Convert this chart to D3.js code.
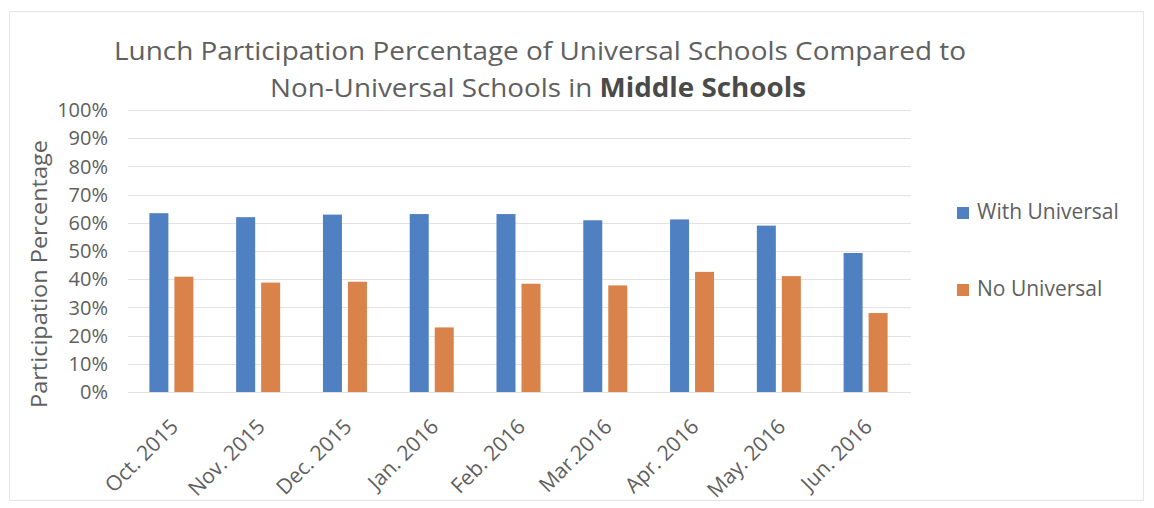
<!DOCTYPE html>
<html>
<head>
<meta charset="utf-8">
<script src="https://d3js.org/d3.v7.min.js"></script>
<style>
  body { margin: 0; background: #fff; }
  svg text { font-family: "Open Sans", sans-serif; fill: #606060; }
</style>
</head>
<body>
<svg width="1154" height="508"></svg>
<script>
const months = ["Oct. 2015", "Nov. 2015", "Dec. 2015", "Jan. 2016", "Feb. 2016",
    "Mar.2016", "Apr. 2016", "May. 2016", "Jun. 2016"];
const seriesNames = ["With Universal", "No Universal"];
const withUniversal = [63.4, 62.0, 62.9, 63.1, 63.1, 60.9, 61.2, 59.0, 49.3];
const noUniversal = [40.9, 38.8, 39.1, 22.9, 38.4, 37.8, 42.6, 41.1, 28.0];
const yTicks = [0, 10, 20, 30, 40, 50, 60, 70, 80, 90, 100];
const colors = ["#4f80c2", "#d9834b"];

let svg = d3.select("svg"),
    plotLeft = 128,
    plotRight = 909,
    plotTop = 110,
    plotBottom = 392;

// faint frame of the scanned chart
svg.append("rect")
    .attr("x", 9.5).attr("y", 11.5)
    .attr("width", 1134).attr("height", 489)
    .attr("fill", "none")
    .attr("stroke", "#e6e6e6");

let x0 = d3.scaleBand().domain(months).range([plotLeft, plotRight]);
let x1 = d3.scaleBand().domain(seriesNames).range([0, 44]).paddingInner(0.24);
let y = d3.scaleLinear().domain([0, 100]).range([plotBottom, plotTop]);

// gridlines
svg.append("g")
    .selectAll("line")
    .data(yTicks)
    .enter()
    .append("line")
    .attr("x1", plotLeft)
    .attr("x2", plotRight + 2)
    .attr("y1", d => Math.round(y(d)) + 0.5)
    .attr("y2", d => Math.round(y(d)) + 0.5)
    .attr("stroke", "#e6e0e0")
    .attr("stroke-width", 1);

// y tick labels
svg.append("g")
    .selectAll("text")
    .data(yTicks)
    .enter()
    .append("text")
    .attr("x", 108)
    .attr("y", d => y(d))
    .attr("dy", "0.36em")
    .attr("text-anchor", "end")
    .style("font-size", "20px")
    .text(d => d + "%");

// bars
let rows = months.map((m, i) => ({ month: m, values: [withUniversal[i], noUniversal[i]] }));

let groups = svg.append("g")
    .selectAll("g")
    .data(rows)
    .enter()
    .append("g")
    .attr("transform", d => `translate(${x0(d.month) + x0.bandwidth() / 2 - 22},0)`);

groups.selectAll("rect")
    .data(d => d.values.map((v, i) => ({ key: seriesNames[i], value: v, i: i })))
    .enter()
    .append("rect")
    .attr("x", d => x1(d.key))
    .attr("width", x1.bandwidth())
    .attr("y", d => y(d.value))
    .attr("height", d => y(0) - y(d.value))
    .attr("fill", d => colors[d.i]);

// x labels, rotated
svg.append("g")
    .selectAll("text")
    .data(months)
    .enter()
    .append("text")
    .attr("transform", d => `translate(${x0(d) + x0.bandwidth() / 2 + 8},428) rotate(-45)`)
    .attr("text-anchor", "end")
    .style("font-size", "21px")
    .text(d => d);

// y axis title
svg.append("text")
    .attr("transform", "translate(47,274) rotate(-90)")
    .attr("text-anchor", "middle")
    .attr("textLength", 268)
    .attr("lengthAdjust", "spacingAndGlyphs")
    .style("font-size", "22px")
    .text("Participation Percentage");

// title
svg.append("text")
    .attr("x", 540)
    .attr("y", 60)
    .attr("text-anchor", "middle")
    .attr("textLength", 852)
    .attr("lengthAdjust", "spacingAndGlyphs")
    .style("font-size", "26px")
    .text("Lunch Participation Percentage of Universal Schools Compared to");

let t2 = svg.append("text")
    .attr("x", 538)
    .attr("y", 97)
    .attr("text-anchor", "middle")
    .attr("textLength", 536)
    .attr("lengthAdjust", "spacingAndGlyphs")
    .style("font-size", "26px");
t2.append("tspan").text("Non-Universal Schools in ");
t2.append("tspan").style("font-weight", "bold").style("fill", "#4a4a4a").text("Middle Schools");

// legend
let legend = svg.append("g")
    .selectAll("g")
    .data(seriesNames)
    .enter()
    .append("g")
    .attr("transform", (d, i) => `translate(957,${207 + i * 77})`);

legend.append("rect")
    .attr("width", 12)
    .attr("height", 12)
    .attr("fill", (d, i) => colors[i]);

legend.append("text")
    .attr("x", 20)
    .attr("y", 12)
    .style("font-size", "21px")
    .text(d => d);
</script>
</body>
</html>
